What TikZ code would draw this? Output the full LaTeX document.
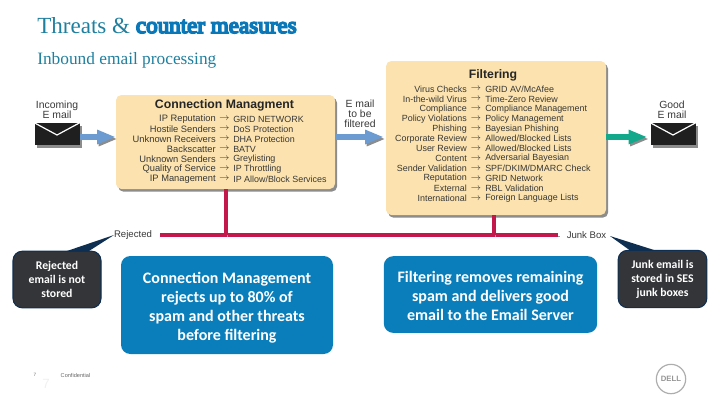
\documentclass[tikz,border=0pt]{standalone}
\usepackage{fontspec}
\setmainfont{Liberation Sans}
\newfontfamily\titlefont{Liberation Serif}
\newfontfamily\titleheavy[FakeBold=7]{Liberation Serif}
\newfontfamily\notefont{Carlito}
\usepackage{tikz}
\usetikzlibrary{shapes,calc,arrows.meta,shadows}
\definecolor{titleteal}{HTML}{1F7F9F}
\definecolor{titleblue}{HTML}{0A78B8}
\definecolor{panelsand}{HTML}{FBE2AE}
\definecolor{rejectred}{HTML}{C2184C}
\definecolor{flowblue}{HTML}{6C9BD2}
\definecolor{flowgreen}{HTML}{12A88C}
\definecolor{noteblue}{HTML}{0A7EBB}
\definecolor{notedark}{HTML}{333538}
\definecolor{notenavy}{HTML}{0F2F52}
\tikzset{
  softshadow/.style={drop shadow={shadow xshift=1.6pt,shadow yshift=-2pt,fill=black,opacity=0.45}},
  panel/.style={fill=panelsand,rounded corners=4pt,inner sep=0,softshadow},
  envelope/.style={fill=black!88,inner sep=0,minimum width=33.75pt,minimum height=16.5pt,softshadow},
  flap/.style={draw=white,line width=0.9pt},
  paneltitle/.style={font=\fontsize{9.2}{10}\selectfont\bfseries,text=black!85,inner sep=0},
  rowtext/.style={font=\fontsize{6.7}{7}\selectfont,text=black!78,inner sep=0},
  widetext/.style={font=\fontsize{7}{7}\selectfont,text=black!78,inner sep=0},
  smalltext/.style={font=\fontsize{7.8}{7.5}\selectfont,text=black!78,align=center,inner sep=0},
  boxlabel/.style={font=\fontsize{7.2}{8}\selectfont,text=black!78,inner sep=0},
  flow/.style={line width=4.5pt,-{Triangle[length=14pt,width=10pt]},
    preaction={draw=black!45,transform canvas={shift={(1.2pt,-1.5pt)}}}},
  reject/.style={draw=rejectred,line width=3pt,
    preaction={draw=black!40,transform canvas={shift={(1.2pt,-1.2pt)}}}},
  bluenote/.style={fill=noteblue,text=white,rounded corners=7pt,align=center,inner sep=0,
    font=\notefont\fontsize{12}{14.25}\selectfont\bfseries},
  darknote/.style={fill=notedark,draw=notenavy,line width=0.8pt,text=white,rounded corners=7pt,
    align=center,inner sep=0,font=\notefont\fontsize{8.8}{10.5}\selectfont\bfseries},
  notetail/.style={fill=notenavy}
}
\begin{document}
\begin{tikzpicture}[x=0.75pt,y=-0.75pt]
  \useasboundingbox (0,0) rectangle (720,405);
  \node[anchor=base west,inner sep=0,text=titleteal,font=\titlefont\fontsize{17.3}{20}\selectfont] (T0) at (37,33)
    {Threats \& {\color{titleblue}\titleheavy counter measures}};
  \node[anchor=base west,inner sep=0,text=titleteal,font=\titlefont\fontsize{13}{18}\selectfont] (T1) at (37,64)
    {Inbound email processing};

  \node[panel,minimum width=164.25pt,minimum height=70.5pt] (C0) at (225.5,142) {};
  \node[panel,minimum width=165pt,minimum height=115.5pt] (F0) at (496,138) {};

  \node[paneltitle] (C1) at ($(C0.north)+(-1,11)$) {Connection Managment};
  \foreach \lhs/\rhs [count=\i from 0] in {
    {IP Reputation}/{GRID NETWORK},
    {Hostile Senders}/{DoS Protection},
    {Unknown Receivers}/{DHA Protection},
    {Backscatter}/{BATV},
    {Unknown Senders}/{Greylisting},
    {Quality of Service}/{IP Throttling},
    {IP Management}/{IP Allow/Block Services}} {
    \node[widetext,anchor=east] (CL\i) at (216,119+10*\i) {\lhs};
    \node[rowtext] (CA\i) at (224.5,119+10*\i) {$\rightarrow$};
    \node[rowtext,anchor=west] (CR\i) at (233,119+10*\i) {\rhs};
  }

  \node[paneltitle] (F1) at ($(F0.north)+(-3,15)$) {Filtering};
  \foreach \lhs/\rhs [count=\i from 0] in {
    {Virus Checks}/{GRID AV/McAfee},
    {In-the-wild Virus}/{Time-Zero Review},
    {Compliance}/{Compliance Management},
    {Policy Violations}/{Policy Management},
    {Phishing}/{Bayesian Phishing},
    {Corporate Review}/{Allowed/Blocked Lists},
    {User Review}/{Allowed/Blocked Lists},
    {Content}/{Adversarial Bayesian},
    {Sender Validation}/{SPF/DKIM/DMARC Check},
    {Reputation}/{GRID Network},
    {External}/{RBL Validation},
    {International}/{Foreign Language Lists}} {
    \node[rowtext,anchor=east] (FL\i) at (467,89+9.95*\i) {\lhs};
    \node[rowtext] (FA\i) at (476,89+9.95*\i) {$\rightarrow$};
    \node[rowtext,anchor=west] (FR\i) at (485,89+9.95*\i) {\rhs};
  }

  \node[envelope] (M0) at (57,134) {};
  \draw[flap] (M0.north west) -- ($(M0.center)+(0,1)$) -- (M0.north east);
  \node[envelope] (M1) at (673,134) {};
  \draw[flap] (M1.north west) -- ($(M1.center)+(0,1)$) -- (M1.north east);
  \node[smalltext] (L0) at (57,110) {Incoming\\E mail};
  \node[smalltext] (L1) at (672,110) {Good\\E mail};
  \node[smalltext] (L2) at (360,114) {E mail\\to be\\filtered};

  \coordinate (A0) at ($(M0.east)+(0,3)$);
  \coordinate (A1) at ($(C0.west)+(0,-5)$);
  \coordinate (A2) at ($(C0.east)+(0,-5)$);
  \coordinate (A3) at ($(F0.west)+(-2,-1)$);
  \coordinate (A4) at ($(F0.east)+(0,-1)$);
  \coordinate (A5) at ($(M1.west)+(-3,3)$);
  \path[flow,draw=flowblue] (A0) -- (A1);
  \path[flow,draw=flowblue] (A2) -- (A3);
  \path[flow,draw=flowgreen] (A4) -- (A5);

  \node[boxlabel] (R0) at (133,235) {Rejected};
  \node[boxlabel] (R1) at (586.5,235) {Junk Box};
  \coordinate (B0) at ($(R0.east)+(8,0)$);
  \coordinate (B1) at ($(R1.west)+(-8,0)$);
  \coordinate (B2) at (C0.south |- R0);
  \coordinate (B4) at ($(F0.south)+(-2,0)$);
  \coordinate (B3) at (B4 |- R1);
  \path[reject] (B0) -- (B1);
  \path[reject] (C0.south) -- (B2);
  \path[reject] (B4) -- (B3);

  \node[darknote,minimum width=66pt,minimum height=42.5pt] (N0) at (57,279.5)
    {Rejected\\email is not\\stored};
  \node[darknote,minimum width=66.5pt,minimum height=43pt] (N1) at (662.5,279)
    {Junk email is\\stored in SES\\junk boxes};
  \coordinate (D0) at (114,235);
  \coordinate (D1) at (610,236);
  \fill[notetail] ($(N0.north)+(8,1)$) -- (D0) -- ($(N0.north)+(31,1)$) -- cycle;
  \fill[notetail] ($(N1.north)+(-32,1)$) -- (D1) -- ($(N1.north)+(-6,1)$) -- cycle;

  \node[bluenote,minimum width=159pt,minimum height=73.5pt] (N2) at (227,305)
    {\rule{0pt}{11.8pt}Connection Management\\rejects up to 80\% of\\spam and other threats\\before filtering};
  \node[bluenote,minimum width=160pt,minimum height=57.5pt] (N3) at (490.5,294.5)
    {\rule{0pt}{10.2pt}Filtering removes remaining\\spam and delivers good\\email to the Email Server};

  \node[inner sep=0,font=\fontsize{3.5}{4}\selectfont,text=black!60] (P0) at (35,375) {7};
  \node[inner sep=0,font=\fontsize{4.2}{5}\selectfont,text=black!60] (P1) at (75.5,375) {Confidential};
  \node[inner sep=0,font=\fontsize{10}{12}\selectfont,text=black!6] (P2) at (46,384) {7};
  \node[draw=black!32,line width=0.9pt,circle,minimum size=22pt,inner sep=0,
    font=\fontsize{5.8}{6}\selectfont\bfseries,text=black!42] (D2) at (671,379) {DELL};
\end{tikzpicture}
\end{document}
